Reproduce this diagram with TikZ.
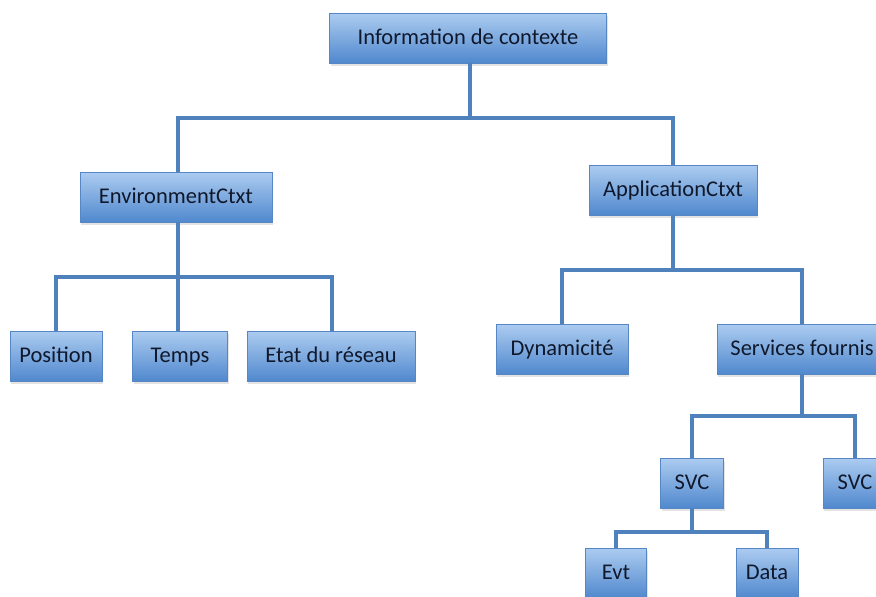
\documentclass[tikz,border=0pt]{standalone}
\usepackage{fontspec}
\setmainfont{Carlito}
\usepackage{tikz}
\usetikzlibrary{positioning, calc, shadows}
\definecolor{cTop}{RGB}{172,204,240}
\definecolor{cBot}{RGB}{80,136,206}
\definecolor{cEdge}{RGB}{86,134,196}
\definecolor{cLine}{RGB}{79,129,189}
\definecolor{cText}{RGB}{16,24,44}

\tikzset{
    box/.style={rectangle, draw=cEdge, line width=0.5pt, top color=cTop, bottom color=cBot,
        minimum height=1cm, inner sep=0pt, text height=2.1ex, text depth=0.45ex,
        text=cText, font=\fontsize{12.8}{14}\selectfont,
        drop shadow={opacity=0.22, shadow xshift=0.8pt, shadow yshift=-1.8pt}},
    link/.style={draw=cLine, line width=2.1pt}
}

\begin{document}
\begin{tikzpicture}[x=0.02cm, y=-0.02cm]
    \useasboundingbox (0,0) rectangle (876,596);

    % Root
    \node[box, minimum width=5.54cm] (root) at (468,38) {Information de contexte};

    % Level 1
    \node[box, minimum width=3.84cm] (env) at (176,197) {EnvironmentCtxt};
    \node[box, minimum width=3.36cm] (app) at (673,190) {ApplicationCtxt};

    % Environment children
    \node[box, minimum width=1.84cm] (pos) at (56,356) {Position};
    \node[box, minimum width=1.90cm] (temps) at (180,356) {Temps};
    \node[box, minimum width=3.36cm] (etat) at (331,356) {Etat du réseau};

    % Application children
    \node[box, minimum width=2.64cm] (dyn) at (562,349) {Dynamicité};
    \node[box, minimum width=3.40cm] (serv) at (802,349) {Services fournis};

    % Services
    \node[box, minimum width=1.26cm] (svcA) at (692,483) {SVC};
    \node[box, minimum width=1.28cm] (svcB) at (855,483) {SVC};

    % SVC children
    \node[box, minimum width=1.22cm] (evt) at (616,573) {Evt};
    \node[box, minimum width=1.24cm] (data) at (767,573) {Data};

    % Bus levels
    \coordinate (bRoot) at (470,118);
    \coordinate (bEnv) at (178,277);
    \coordinate (bApp) at (673,270);
    \coordinate (bServ) at (802,416);
    \coordinate (bSvc) at (692,532);

    % Connections
    \draw[link] (root.south -| bRoot) -- (bRoot) -| (env.north -| bEnv);
    \draw[link] (bRoot) -| (app.north);

    \draw[link] (env.south -| bEnv) -- (bEnv) -| (pos.north);
    \draw[link] (bEnv) -- (temps.north -| bEnv);
    \draw[link] (bEnv) -| ([xshift=0.02cm]etat.north);

    \draw[link] (app.south) -- (bApp) -| (dyn.north);
    \draw[link] (bApp) -| (serv.north);

    \draw[link] (serv.south) -- (bServ) -| (svcA.north);
    \draw[link] (bServ) -| (svcB.north);

    \draw[link] (svcA.south) -- (bSvc) -| (evt.north);
    \draw[link] (bSvc) -| (data.north);
\end{tikzpicture}
\end{document}
